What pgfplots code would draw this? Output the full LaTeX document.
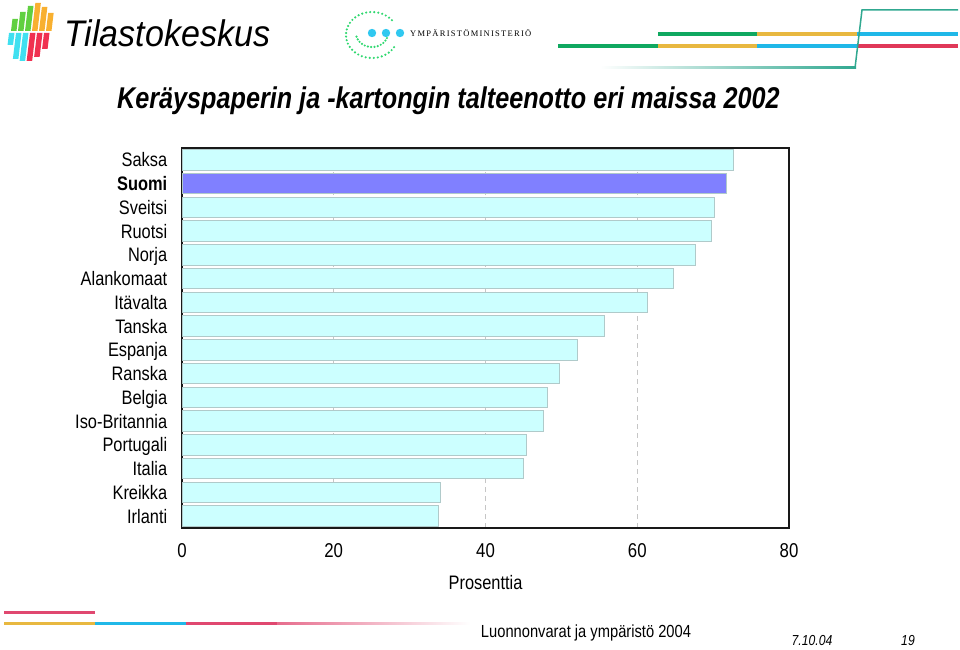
\documentclass[border=0pt]{standalone}
\usepackage{fontspec}
\setmainfont{Liberation Sans}
\newfontfamily\narrowfont{Liberation Sans}[FakeStretch=0.84]
\newfontfamily\ymfont{Liberation Serif}[LetterSpace=15]
\usepackage{graphicx}
\usepackage{pgfplots}
\pgfplotsset{compat=1.18}
\definecolor{barcyan}{HTML}{CCFFFF}
\definecolor{baredge}{HTML}{B0CACA}
\definecolor{suomiblue}{HTML}{8080FF}
\definecolor{lgreen}{HTML}{10A860}
\definecolor{lyellow}{HTML}{E8B840}
\definecolor{lblue}{HTML}{20B8E8}
\definecolor{lred}{HTML}{E03858}
\definecolor{lpink}{HTML}{E04870}
\definecolor{lteal}{HTML}{30A890}
\definecolor{dotgreen}{HTML}{30D870}
\definecolor{dotcyan}{HTML}{30C8F0}
\definecolor{sgreen}{HTML}{60D040}
\definecolor{sorange}{HTML}{F8B030}
\definecolor{scyan}{HTML}{40E0F0}
\definecolor{sred}{HTML}{F03050}
\begin{document}
\begin{tikzpicture}
\useasboundingbox (0,0) rectangle (960pt,649pt);
\begin{scope}[shift={(0pt,649pt)}, x=1pt, y=-1pt]
  % Tilastokeskus logo strips (top)
  \foreach \xx/\yt/\cc in {11/19/sgreen,18/12/sgreen,25/6/sgreen,32/3/sorange,39/7/sorange,46/13/sorange}{
    \fill[\cc] (\xx,31) -- (\xx+5.5,31) -- ({\xx+5.5+0.12*(31-\yt)},\yt) -- ({\xx+0.12*(31-\yt)},\yt) -- cycle;
  }
  % bottom strips
  \foreach \xx/\yb/\cc in {9/45/scyan,16/59/scyan,23/61/scyan,30/61/sred,37/57/sred,44/49/sred}{
    \fill[\cc] ({\xx-0.12*(\yb-33)},\yb) -- ({\xx+5.5-0.12*(\yb-33)},\yb) -- (\xx+5.5,33) -- (\xx,33) -- cycle;
  }
  \node[anchor=west, inner sep=0] at (64,33) {\scalebox{0.92}[1]{\fontsize{37}{38}\selectfont\itshape Tilastokeskus}};
  % Ymparistoministerio logo
  \foreach \a in {40,49,...,330}{
    \fill[dotgreen] ({372+26*cos(\a)},{35-23*sin(\a)}) circle (1.2);
  }
  \foreach \a in {195,207,...,345}{
    \fill[dotgreen] ({372+16*cos(\a)},{33-14*sin(\a)}) circle (1.2);
  }
  \fill[dotcyan] (372,33) circle (4.2);
  \fill[dotcyan] (386,33) circle (4.2);
  \fill[dotcyan] (400,33) circle (4.2);
  \node[anchor=west, inner sep=0] at (410,33) {\fontsize{8.5}{9}\ymfont YMPÄRISTÖMINISTERIÖ};
  % top coloured lines
  \fill[lgreen] (658,32) rectangle (757,36);
  \fill[lyellow] (757,32) rectangle (857,36);
  \fill[lblue] (857,32) rectangle (958,36);
  \fill[lgreen] (558,44) rectangle (658,48);
  \fill[lyellow] (658,44) rectangle (757,48);
  \fill[lblue] (757,44) rectangle (857,48);
  \fill[lred] (857,44) rectangle (958,48);
  \shade[left color=white, right color=lteal] (600,67) rectangle (856,69);
  \draw[lteal, line width=1.5pt] (855,68) -- (862,10) -- (958,10);
  % title
  \node[anchor=west, inner sep=0] at (117,101) {\fontsize{30}{32}\narrowfont\bfseries\itshape Keräyspaperin ja -kartongin talteenotto eri maissa 2002};
  % footer lines
  \fill[lpink] (4,611) rectangle (95,614);
  \fill[lyellow] (4,622) rectangle (95,625);
  \fill[lblue] (95,622) rectangle (186,625);
  \fill[lpink] (186,622) rectangle (277,625);
  \shade[left color=lpink!80, right color=white] (277,622.5) rectangle (470,624.5);
  \node[inner sep=0] at (586,633) {\fontsize{17.5}{18}\narrowfont Luonnonvarat ja ympäristö 2004};
  \node[inner sep=0] at (812,641) {\fontsize{14.5}{15}\narrowfont\itshape 7.10.04};
  \node[inner sep=0] at (908,641) {\fontsize{14.5}{15}\narrowfont\itshape 19};
\end{scope}
\begin{axis}[
  at={(182pt,121pt)}, anchor=south west,
  scale only axis, width=607pt, height=380pt,
  xbar, bar width=20.5pt, bar shift=0pt,
  xmin=0, xmax=80, ymin=-0.5, ymax=15.5,
  xtick={0,20,40,60,80},
  ytick={0,...,15},
  yticklabels={Irlanti,Kreikka,Italia,Portugali,Iso-Britannia,Belgia,Ranska,Espanja,Tanska,Itävalta,Alankomaat,Norja,Ruotsi,Sveitsi,\textbf{Suomi},Saksa},
  tick style={draw=none},
  xmajorgrids, grid style={dash pattern=on 5pt off 4pt, gray!45, line width=0.7pt},
  axis line style={black!90, line width=1.3pt},
  /pgf/number format/assume math mode=true,
  xticklabel style={font=\fontsize{20}{21}\narrowfont, yshift=-12pt},
  yticklabel style={font=\fontsize{19.5}{21}\narrowfont, xshift=-7pt, text height=14pt, text depth=0pt},
  xlabel={Prosenttia},
  xlabel style={font=\fontsize{19.5}{21}\narrowfont, at={(rel axis cs:0.5,0)}, anchor=center, yshift=-55pt},
]
\addplot[fill=barcyan, draw=baredge, line width=0.8pt] coordinates {
  (33.8,0) (34.1,1) (45.0,2) (45.4,3) (47.6,4) (48.1,5) (49.7,6) (52.1,7)
  (55.7,8) (61.4,9) (64.7,10) (67.7,11) (69.8,12) (70.2,13) (72.7,15)};
\addplot[fill=suomiblue, draw=baredge, line width=0.8pt] coordinates {(71.8,14)};
\end{axis}
\end{tikzpicture}
\end{document}
